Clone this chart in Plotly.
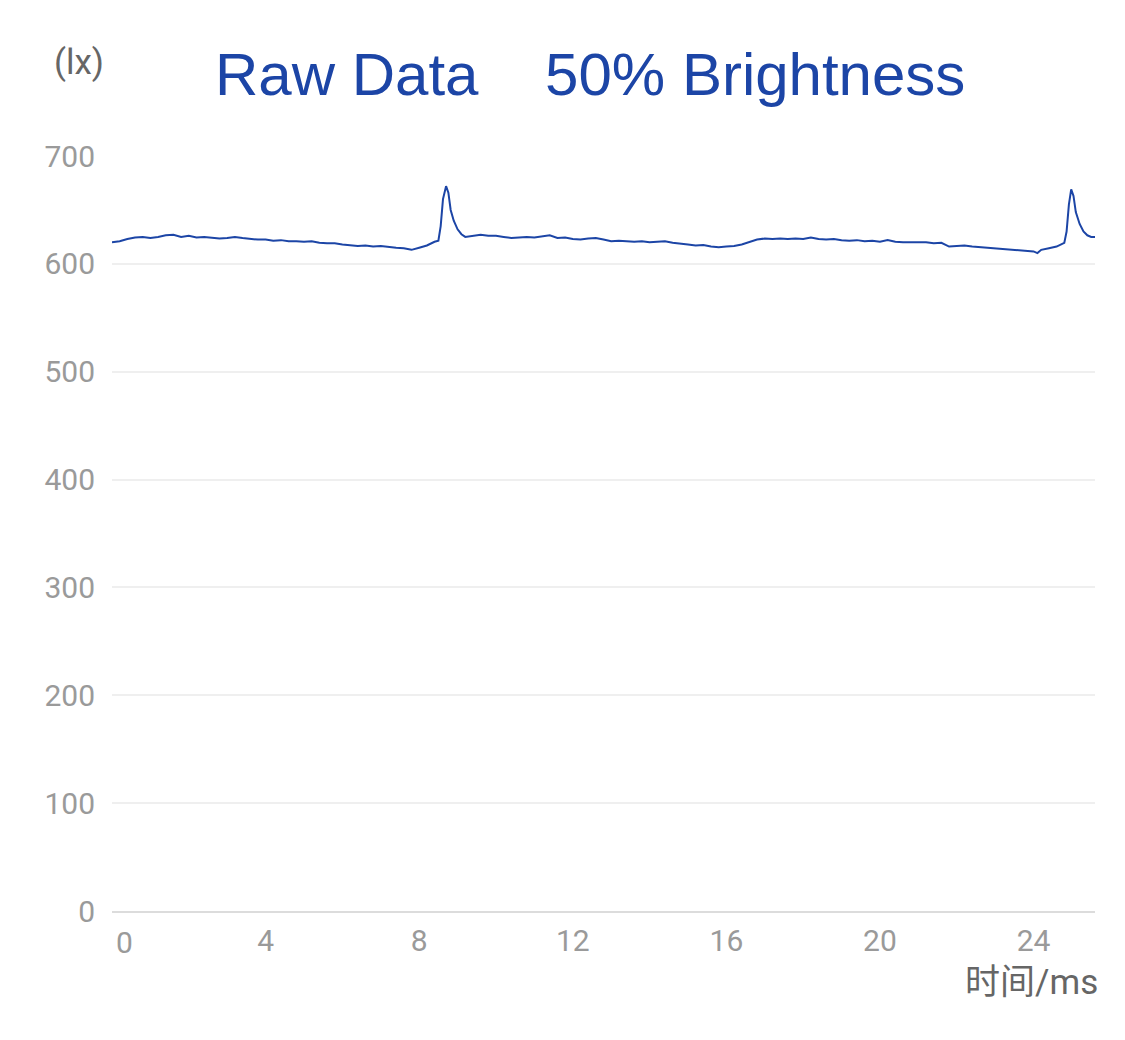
import plotly.graph_objects as go

# ---- data ----
time_ms = [0.0, 0.2, 0.4, 0.6, 0.8, 1.0, 1.2, 1.4, 1.6, 1.8, 2.0, 2.2, 2.4, 2.6, 2.8,
           3.0, 3.2, 3.4, 3.6, 3.8, 4.0, 4.2, 4.4, 4.6, 4.8, 5.0, 5.2, 5.4, 5.6, 5.8,
           6.0, 6.2, 6.4, 6.6, 6.8, 7.0, 7.2, 7.4, 7.6, 7.8, 8.0, 8.2, 8.4, 8.5, 8.56,
           8.62, 8.70, 8.76, 8.82, 8.9, 9.0, 9.1, 9.2, 9.3, 9.4, 9.6, 9.8, 10.0, 10.2,
           10.4, 10.6, 10.8, 11.0, 11.2, 11.4, 11.6, 11.8, 12.0, 12.2, 12.4, 12.6, 12.8,
           13.0, 13.2, 13.4, 13.6, 13.8, 14.0, 14.2, 14.4, 14.6, 14.8, 15.0, 15.2, 15.4,
           15.6, 15.8, 16.0, 16.2, 16.4, 16.6, 16.8, 17.0, 17.2, 17.4, 17.6, 17.8, 18.0,
           18.2, 18.4, 18.6, 18.8, 19.0, 19.2, 19.4, 19.6, 19.8, 20.0, 20.2, 20.4, 20.6,
           20.8, 21.0, 21.2, 21.4, 21.6, 21.8, 22.0, 22.2, 22.4, 22.6, 22.8, 23.0, 23.2,
           23.4, 23.6, 23.8, 24.0, 24.1, 24.2, 24.4, 24.6, 24.8, 24.86, 24.92, 24.98,
           25.04, 25.1, 25.2, 25.3, 25.4, 25.5, 25.6]
illuminance_lx = [620, 621, 623, 624.5, 625, 624, 625, 626.5, 627, 625, 626, 624.5, 625, 624, 623.5,
                  624, 625, 624, 623, 622.5, 622.5, 621.5, 622, 621, 621, 620.5, 621, 619.5, 619, 619,
                  618, 617.5, 616.5, 617, 616, 616.5, 615.5, 615, 614.5, 613, 615, 617, 620.5, 621.5, 635,
                  660, 672, 666, 650, 640, 632, 627.5, 625, 625.5, 626.5, 627, 626, 626, 625,
                  624, 624.5, 625, 624.5, 625.5, 626.5, 624, 624.5, 623, 622.5, 623.5, 624, 622.5,
                  621, 621.5, 621, 620.5, 621, 620, 620.5, 621, 619.5, 619, 618, 617, 617.5,
                  616, 615.5, 616, 616.5, 618, 620.5, 622.5, 623.5, 623, 623.5, 623, 623.5, 623,
                  624.5, 623, 622.5, 623, 622, 621.5, 622, 621, 621.5, 620.5, 622, 620.5, 620,
                  620, 619.5, 620, 619, 619.5, 616, 616.5, 617, 616, 615.5, 614.5, 614, 613.5,
                  613, 612.5, 612, 611.5, 610, 613, 614.5, 616, 619.5, 630, 655, 669,
                  663, 648, 637, 630, 626.5, 625, 625]

x_ticks = [0, 4, 8, 12, 16, 20, 24]
y_ticks = [0, 100, 200, 300, 400, 500, 600, 700]

title_text = "Raw Data&nbsp;&nbsp;&nbsp;&nbsp;50% Brightness"
y_unit = "(lx)"
x_title = "时间/ms"

blue = "#1c45a6"
tick_grey = "#9a9a9a"
font_family = "Roboto, 'Noto Sans CJK SC', sans-serif"

# the page body has an 8px default margin; compensate so the picture lines up
OFF = 8
W, H = 1125, 1040
ML, MR, MT, MB = 112 - OFF, 30 + OFF, 156 - OFF, 129 + OFF
plot_w = W - ML - MR
plot_h = H - MT - MB


def px(x, y):
    """screen pixel position -> paper coordinates"""
    return (x - OFF - ML) / plot_w, (H - (y - OFF) - MB) / plot_h


fig = go.Figure()
fig.add_trace(go.Scatter(
    x=time_ms, y=illuminance_lx, mode="lines",
    line=dict(color=blue, width=2),
    hoverinfo="skip", showlegend=False,
))

fig.update_layout(
    width=W, height=H,
    margin=dict(l=ML, r=MR, t=MT, b=MB, autoexpand=False),
    paper_bgcolor="white", plot_bgcolor="white",
    font=dict(family=font_family),
    showlegend=False,
)

fig.update_xaxes(
    range=[0, 25.6],
    tickmode="array", tickvals=x_ticks,
    ticktext=["" if v == 0 else str(v) for v in x_ticks],
    tickfont=dict(size=30, color=tick_grey),
    showgrid=False, zeroline=False,
    showline=True, linecolor="#dcdcdc", linewidth=2,
    ticks="", ticklabelstandoff=2,
)
fig.update_yaxes(
    range=[0, 700],
    tickmode="array", tickvals=y_ticks,
    tickfont=dict(size=30, color=tick_grey),
    showgrid=True, gridcolor="#efefef", gridwidth=2,
    zeroline=False, showline=False, ticks="",
    ticklabelstandoff=16,
)

# first x tick label aligned to the axis start
ax, ay = px(121.5, 942)
fig.add_annotation(
    x=0, y=ay, xref="x", yref="paper", text="0", showarrow=False,
    xanchor="left", yanchor="middle", xshift=2,
    font=dict(size=30, color=tick_grey, family=font_family),
)
# title
tx, ty = px(590, 74)
fig.add_annotation(
    x=tx, y=ty, xref="paper", yref="paper", text=title_text, showarrow=False,
    font=dict(size=60, color=blue, family="'Liberation Sans', Arial, sans-serif"),
    xanchor="center", yanchor="middle",
)
# y unit
ux, uy = px(79, 63)
fig.add_annotation(
    x=ux, y=uy, xref="paper", yref="paper", text=y_unit, showarrow=False,
    font=dict(size=35, color="#666666", family=font_family),
    xanchor="center", yanchor="middle",
)
# x-axis title
xx, xy = px(1100, 983)
fig.add_annotation(
    x=xx, y=xy, xref="paper", yref="paper", text=x_title, showarrow=False,
    font=dict(size=35, color="#666666", family=font_family),
    xanchor="right", yanchor="middle",
)

fig.write_html("out.html")
